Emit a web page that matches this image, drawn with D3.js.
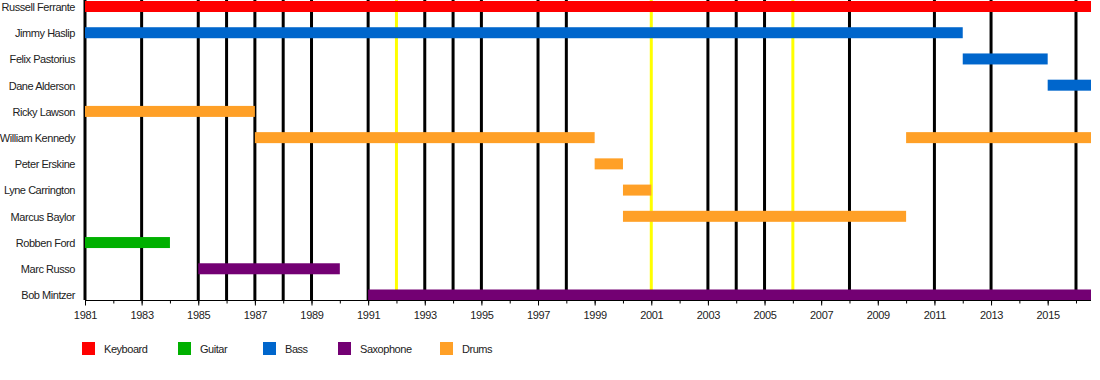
<!DOCTYPE html>
<html>
<head>
<meta charset="utf-8">
<script src="https://cdn.jsdelivr.net/npm/d3@7"></script>
<style>
  html, body { margin: 0; padding: 0; background: #fff; }
  text { font-family: "Liberation Sans", Arial, sans-serif; }
</style>
</head>
<body>
<svg id="chart" width="1100" height="380"></svg>
<script>
// ---- data ----
const members = ["Russell Ferrante","Jimmy Haslip","Felix Pastorius","Dane Alderson","Ricky Lawson","William Kennedy","Peter Erskine","Lyne Carrington","Marcus Baylor","Robben Ford","Marc Russo","Bob Mintzer"];
const roles = ["Keyboard","Guitar","Bass","Saxophone","Drums"];
const roleColors = ["#ff0000","#00b000","#0066cc","#730073","#ffa027"];
const startDate = 1981;
const endDate = 2016.53;
// periods: member, role, from, till
const barMember = ["Russell Ferrante","Jimmy Haslip","Felix Pastorius","Dane Alderson","Ricky Lawson","William Kennedy","William Kennedy","Peter Erskine","Lyne Carrington","Marcus Baylor","Robben Ford","Marc Russo","Bob Mintzer"];
const barRole   = ["Keyboard","Bass","Bass","Bass","Drums","Drums","Drums","Drums","Drums","Drums","Guitar","Saxophone","Saxophone"];
const barFrom   = [1981,1981,2012,2015,1981,1987,2010,1999,2000,2000,1981,1985,1991];
const barTill   = [endDate,2012,2015,endDate,1987,1999,endDate,2000,2001,2010,1984,1990,endDate];
// studio albums (black) and live albums (yellow)
const studioAlbums = [1981,1983,1985,1986,1987,1988,1989,1991,1993,1994,1995,1997,1998,2003,2004,2005,2008,2011,2013,2016];
const liveAlbums = [1992,2001,2006];
const majorTicks = d3.range(1981, 2016, 2);
const minorTicks = d3.range(1981, 2017, 1);

// ---- layout ----
const svg = d3.select("#chart");
const plotLeft = 85, plotRight = 1091, plotTop = 0, plotBottom = 300;
const x = d3.scaleLinear().domain([startDate, endDate]).range([plotLeft, plotRight]);
const y = d3.scalePoint().domain(members).range([6.5, 295]);
const color = d3.scaleOrdinal().domain(roles).range(roleColors);
const barH = 11;
const textColor = "#222";

// album lines
const lines = svg.append("g");
lines.selectAll("line.studio").data(studioAlbums).join("line")
  .attr("x1", d => x(d)).attr("x2", d => x(d))
  .attr("y1", plotTop).attr("y2", plotBottom)
  .attr("stroke", "#000").attr("stroke-width", 3);
lines.selectAll("line.live").data(liveAlbums).join("line")
  .attr("x1", d => x(d)).attr("x2", d => x(d))
  .attr("y1", plotTop).attr("y2", plotBottom)
  .attr("stroke", "#ffff00").attr("stroke-width", 3);

// bars
const bars = barMember.map((m, i) => ({m, r: barRole[i], f: barFrom[i], t: barTill[i]}));
svg.append("g").selectAll("rect").data(bars).join("rect")
  .attr("x", d => x(d.f))
  .attr("width", d => x(d.t) - x(d.f))
  .attr("y", d => y(d.m) - barH / 2)
  .attr("height", barH)
  .attr("fill", d => color(d.r));

// row labels
svg.append("g").selectAll("text").data(members).join("text")
  .attr("x", 75).attr("y", d => y(d) + 0.5)
  .attr("dy", "0.35em")
  .attr("text-anchor", "end")
  .attr("font-size", 11)
  .attr("letter-spacing", "-0.45px")
  .attr("fill", textColor)
  .text(d => d);

// x axis
const axisG = svg.append("g").attr("transform", `translate(0,${plotBottom + 0.5})`);
axisG.call(d3.axisBottom(x).tickValues(minorTicks).tickSize(3).tickFormat(""))
  .call(g => g.select(".domain").remove());
axisG.append("g").call(d3.axisBottom(x).tickValues(majorTicks).tickSize(5).tickFormat(d3.format("d")))
  .call(g => g.select(".domain").remove())
  .call(g => g.selectAll("text").attr("font-size", 11).attr("fill", textColor).attr("y", 11)
        .attr("letter-spacing", "-0.3px")
        .attr("font-family", "Liberation Sans, Arial, sans-serif"));
axisG.append("line").attr("x1", plotLeft).attr("x2", plotRight).attr("y1", 0).attr("y2", 0).attr("stroke", "#000");

// legend
const legendX = [82, 178, 263, 338, 440];
const leg = svg.append("g").selectAll("g").data(roles).join("g")
  .attr("transform", (d, i) => `translate(${legendX[i]},342)`);
leg.append("rect").attr("width", 13).attr("height", 13).attr("fill", d => color(d));
leg.append("text").attr("x", 22).attr("y", 7).attr("dy", "0.35em")
  .attr("font-size", 11).attr("letter-spacing", "-0.45px")
  .attr("fill", textColor).text(d => d);
</script>
</body>
</html>
